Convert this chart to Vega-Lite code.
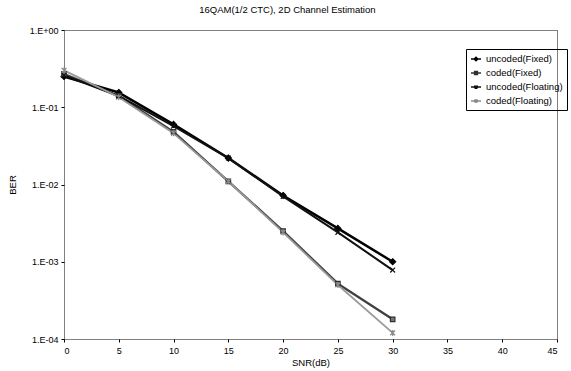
{
  "$schema": "https://vega.github.io/schema/vega-lite/v6.json",
  "width": 493,
  "height": 309,
  "autosize": {"type": "none"},
  "padding": {"left": 64, "top": 30, "right": 14, "bottom": 32},
  "background": "white",
  "config": {
    "font": "Liberation Sans",
    "view": {"stroke": "#000000", "strokeDash": [1, 1], "strokeWidth": 1},
    "axis": {"labelFont": "Liberation Sans", "titleFont": "Liberation Sans", "labelFontSize": 9, "titleFontSize": 9.5, "labelColor": "#000", "titleColor": "#000", "titleFontWeight": "normal", "grid": false, "domain": false, "tickColor": "#000"}
  },
  "title": {"text": "16QAM(1/2 CTC), 2D Channel Estimation", "fontSize": 9.5, "font": "Liberation Sans", "fontWeight": "normal", "frame": "bounds", "anchor": "middle", "offset": 12},
  "data": {"values": [
    {"snr": 0, "ber": 0.25, "series": "uncoded(Fixed)"},
    {"snr": 5, "ber": 0.155, "series": "uncoded(Fixed)"},
    {"snr": 10, "ber": 0.06, "series": "uncoded(Fixed)"},
    {"snr": 15, "ber": 0.022, "series": "uncoded(Fixed)"},
    {"snr": 20, "ber": 0.0072, "series": "uncoded(Fixed)"},
    {"snr": 25, "ber": 0.0027, "series": "uncoded(Fixed)"},
    {"snr": 30, "ber": 0.001, "series": "uncoded(Fixed)"},
    {"snr": 0, "ber": 0.27, "series": "coded(Fixed)"},
    {"snr": 5, "ber": 0.14, "series": "coded(Fixed)"},
    {"snr": 10, "ber": 0.048, "series": "coded(Fixed)"},
    {"snr": 15, "ber": 0.011, "series": "coded(Fixed)"},
    {"snr": 20, "ber": 0.0025, "series": "coded(Fixed)"},
    {"snr": 25, "ber": 0.00052, "series": "coded(Fixed)"},
    {"snr": 30, "ber": 0.00018, "series": "coded(Fixed)"},
    {"snr": 0, "ber": 0.26, "series": "uncoded(Floating)"},
    {"snr": 5, "ber": 0.14, "series": "uncoded(Floating)"},
    {"snr": 10, "ber": 0.057, "series": "uncoded(Floating)"},
    {"snr": 15, "ber": 0.022, "series": "uncoded(Floating)"},
    {"snr": 20, "ber": 0.007, "series": "uncoded(Floating)"},
    {"snr": 25, "ber": 0.0024, "series": "uncoded(Floating)"},
    {"snr": 30, "ber": 0.00078, "series": "uncoded(Floating)"},
    {"snr": 0, "ber": 0.3, "series": "coded(Floating)"},
    {"snr": 5, "ber": 0.135, "series": "coded(Floating)"},
    {"snr": 10, "ber": 0.046, "series": "coded(Floating)"},
    {"snr": 15, "ber": 0.011, "series": "coded(Floating)"},
    {"snr": 20, "ber": 0.0024, "series": "coded(Floating)"},
    {"snr": 25, "ber": 0.0005, "series": "coded(Floating)"},
    {"snr": 30, "ber": 0.00012, "series": "coded(Floating)"}
  ]},
  "encoding": {
    "x": {"field": "snr", "type": "quantitative", "title": "SNR(dB)", "scale": {"domain": [0, 45], "nice": false, "zero": false}, "axis": {"values": [0, 5, 10, 15, 20, 25, 30, 35, 40, 45], "tickSize": 3, "labelPadding": 4, "titlePadding": 2}},
    "y": {"field": "ber", "type": "quantitative", "title": "BER", "scale": {"type": "log", "domain": [0.0001, 1], "nice": false}, "axis": {"values": [1, 0.1, 0.01, 0.001, 0.0001], "tickSize": 3, "labelPadding": 3, "titlePadding": 12, "labelExpr": "datum.value >= 1 ? '1.E+00' : '1.E-0' + round(-log(datum.value) / LN10)"}}
  },
  "layer": [
    {
      "mark": {"type": "line", "strokeJoin": "round"},
      "encoding": {
        "detail": {"field": "series"},
        "stroke": {"field": "series", "type": "nominal", "scale": {"domain": ["uncoded(Fixed)", "coded(Fixed)", "uncoded(Floating)", "coded(Floating)"], "range": ["#000000", "#404040", "#111111", "#9a9a9a"]}, "legend": null},
        "strokeWidth": {"field": "series", "type": "nominal", "scale": {"domain": ["uncoded(Fixed)", "coded(Fixed)", "uncoded(Floating)", "coded(Floating)"], "range": [2.5, 1.8, 1, 1]}, "legend": null}
      }
    },
    {
      "mark": {"type": "point", "filled": false, "size": 36, "strokeWidth": 1.2, "opacity": 1},
      "encoding": {
        "shape": {"field": "series", "type": "nominal", "scale": {"domain": ["uncoded(Fixed)", "coded(Fixed)", "uncoded(Floating)", "coded(Floating)"], "range": ["M0,-1L1,0L0,1L-1,0Z", "M-0.75,-0.75H0.75V0.75H-0.75Z", "M-0.8,-0.8L0.8,0.8M-0.8,0.8L0.8,-0.8", "M-0.8,-0.8L0.8,0.8M-0.8,0.8L0.8,-0.8M0,-1V1"]}, "legend": null},
        "stroke": {"field": "series", "type": "nominal", "scale": {"domain": ["uncoded(Fixed)", "coded(Fixed)", "uncoded(Floating)", "coded(Floating)"], "range": ["#000000", "#303030", "#111111", "#8a8a8a"]}, "legend": null},
        "fill": {"field": "series", "type": "nominal", "scale": {"domain": ["uncoded(Fixed)", "coded(Fixed)", "uncoded(Floating)", "coded(Floating)"], "range": ["#000000", "#777777", "#ffffff", "#ffffff"]}, "legend": null}
      }
    },
    {
      "mark": {"type": "point", "filled": false, "size": 256, "strokeWidth": 1.3, "opacity": 0},
      "encoding": {
        "shape": {"field": "series", "type": "nominal", "title": null, "scale": {"domain": ["uncoded(Fixed)", "coded(Fixed)", "uncoded(Floating)", "coded(Floating)"], "range": ["M-1,0H1M0,-0.35L0.35,0L0,0.35L-0.35,0Z", "M-1,0H1M-0.28,-0.28H0.28V0.28H-0.28Z", "M-1,0H1M-0.3,-0.3L0.3,0.3M-0.3,0.3L0.3,-0.3", "M-1,0H1M-0.3,-0.3L0.3,0.3M-0.3,0.3L0.3,-0.3M0,-0.35V0.35"]}, "legend": {"orient": "none", "legendX": 402, "legendY": 19, "symbolOpacity": 1, "labelFontSize": 9.5, "labelFont": "Liberation Sans", "labelColor": "#000", "rowPadding": 3, "padding": 4, "strokeColor": "#000000", "labelOffset": 4}},
        "stroke": {"field": "series", "type": "nominal", "title": null, "scale": {"domain": ["uncoded(Fixed)", "coded(Fixed)", "uncoded(Floating)", "coded(Floating)"], "range": ["#000000", "#303030", "#111111", "#8a8a8a"]}, "legend": {"orient": "none", "legendX": 402, "legendY": 19, "symbolOpacity": 1, "labelFontSize": 9.5, "labelFont": "Liberation Sans", "labelColor": "#000", "rowPadding": 3, "padding": 4, "strokeColor": "#000000", "labelOffset": 4}},
        "fill": {"field": "series", "type": "nominal", "title": null, "scale": {"domain": ["uncoded(Fixed)", "coded(Fixed)", "uncoded(Floating)", "coded(Floating)"], "range": ["#000000", "#777777", "#ffffff", "#ffffff"]}, "legend": {"orient": "none", "legendX": 402, "legendY": 19, "symbolOpacity": 1, "labelFontSize": 9.5, "labelFont": "Liberation Sans", "labelColor": "#000", "rowPadding": 3, "padding": 4, "strokeColor": "#000000", "labelOffset": 4}}
      }
    }
  ],
  "resolve": {"scale": {"shape": "independent", "stroke": "independent", "fill": "independent", "strokeWidth": "independent"}}
}
